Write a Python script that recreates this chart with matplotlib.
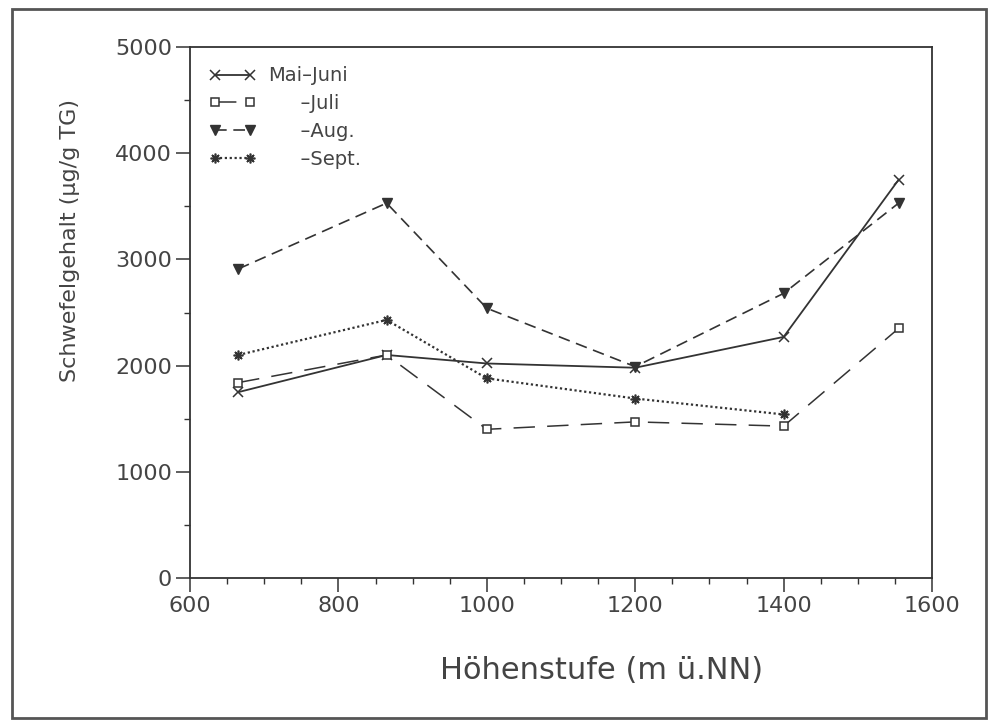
import numpy as np
import matplotlib
matplotlib.use("Agg")
import matplotlib.pyplot as plt
from matplotlib.patches import Rectangle

plt.rcParams.update({'font.family': 'DejaVu Sans', 'font.size': 14})

# Höhenstufen (m ü.NN)
hoehe = [665, 865, 1000, 1200, 1400, 1555]
hoehe_sept = [665, 865, 1000, 1200, 1400]

# Schwefelgehalt (µg/g TG)
mai_juni = [1750, 2100, 2020, 1980, 2270, 3750]
juli = [1840, 2100, 1400, 1470, 1430, 2350]
aug = [2910, 3530, 2540, 1990, 2680, 3530]
sept = [2100, 2430, 1880, 1690, 1540]

pad = "\u2007\u2007\u2009\u2009"
labels = ["Mai\u2013Juni", pad + "\u2013Juli", pad + "\u2013Aug.", pad + "\u2013Sept."]

c = '#333333'
tc = '#444444'
fig = plt.figure(figsize=(9.9, 7.21), dpi=100)
ax = fig.add_axes([190/990, 1-578/721, (932-190)/990, (578-47)/721])

l1, = ax.plot(hoehe, mai_juni, color=c, lw=1.3, ls='-', marker='x', ms=7, mew=1.1)
l2, = ax.plot(hoehe, juli, color=c, lw=1.1, ls=(0, (14, 8)), marker='s', ms=6,
              mfc='white', mew=1.1)
l3, = ax.plot(hoehe, aug, color=c, lw=1.2, ls=(0, (7, 4)), marker='v', ms=7)
l4, = ax.plot(hoehe_sept, sept, color=c, lw=1.6, ls=(0, (1, 1.2)),
              marker=(8, 2, 0), ms=7, mew=1.2)

ax.set_xlim(600, 1600)
ax.set_ylim(0, 5000)
ax.set_xticks(np.arange(600, 1601, 200))
ax.set_xticks(np.arange(600, 1601, 50), minor=True)
ax.set_yticks(np.arange(0, 5001, 1000))
ax.set_yticks(np.arange(0, 5001, 500), minor=True)
ax.tick_params(which='major', direction='out', length=10, width=1.1, color=c,
               labelsize=16, labelcolor=tc, pad=3)
ax.tick_params(which='minor', direction='out', length=4, width=1.0, color=c)
for s in ax.spines.values():
    s.set_color(c)
    s.set_linewidth(1.3)

ax.set_xlabel("Höhenstufe (m ü.NN)", fontsize=22, color=tc)
ax.xaxis.set_label_coords((602-190)/742, -(656-578)/531)
ax.set_ylabel("Schwefelgehalt (µg/g TG)", fontsize=16, color=tc)
ax.yaxis.set_label_coords(-(190-80)/742, (578-240)/531)

ax.legend([l1, l2, l3, l4], labels, loc='upper left', bbox_to_anchor=(0.0, 1.0),
          frameon=False, numpoints=2, handlelength=2.4, handletextpad=0.6,
          labelspacing=0.45, borderaxespad=0.6, fontsize=14, labelcolor=tc)

fig.add_artist(Rectangle((12/990, 1-718/721), (986-12)/990, (718-9)/721,
                         transform=fig.transFigure, fill=False,
                         edgecolor='#555555', lw=2))

fig.savefig("out.png", dpi=100, facecolor='white')
